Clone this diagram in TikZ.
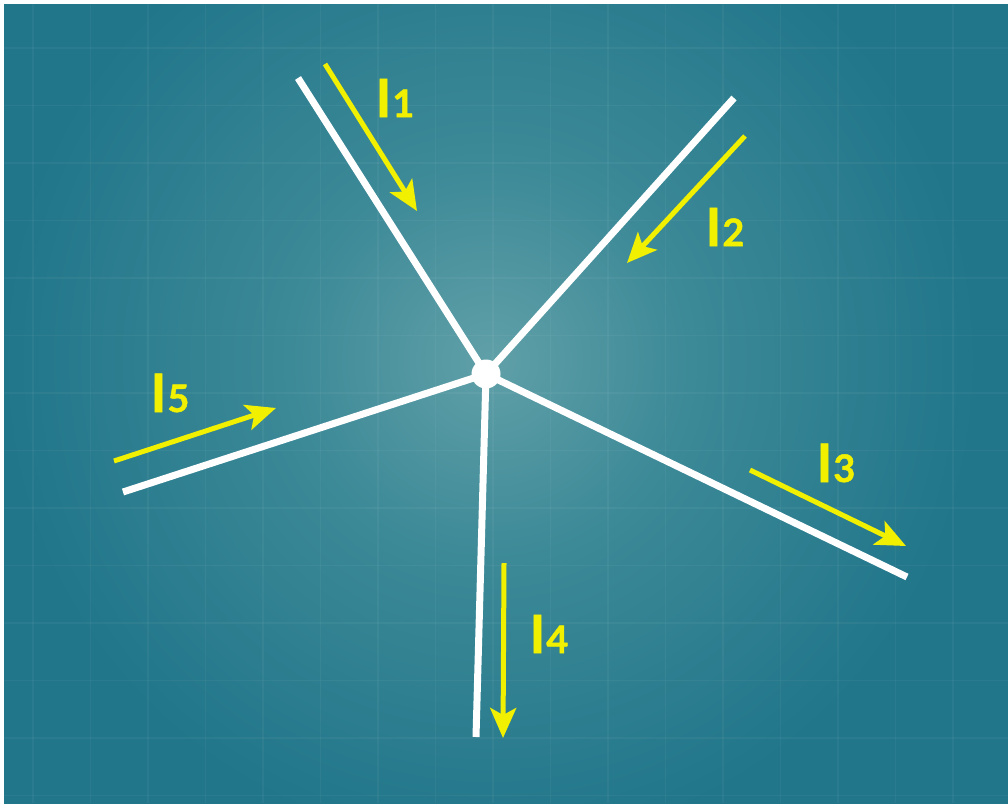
\documentclass[tikz,border=0pt]{standalone}
\usepackage{fontspec}
\newfontfamily\labfont{Lato}[BoldFeatures={FakeBold=1.2}]
\usetikzlibrary{arrows.meta}
\definecolor{bgout}{RGB}{33,118,138}
\definecolor{bgmid}{RGB}{60,137,151}
\definecolor{bgin}{RGB}{96,160,168}
\definecolor{cur}{RGB}{240,240,0}
\pgfdeclareradialshading{glow}{\pgfpoint{0bp}{0bp}}{color(0bp)=(bgin); color(7bp)=(bgmid); color(17bp)=(bgout); color(50bp)=(bgout)}
\tikzset{
  wire/.style={white, line width=7pt},
  curarrow/.style={cur, line width=5pt, -{Stealth[length=30pt,width=26pt,inset=7pt]}},
  lab/.style={text=cur, inner sep=0pt, font=\labfont\bfseries},
  gridline/.style={white, opacity=0.045, line width=1.6pt}
}
\newcommand{\curlab}[1]{\fontsize{53}{53}\selectfont I\hspace{1pt}\fontsize{38}{38}\selectfont #1}
\begin{document}
\begin{tikzpicture}[x=1pt,y=-1pt]
\useasboundingbox (0,0) rectangle (1008,803);
\fill[white] (0,0) rectangle (1008,803);
\begin{scope}
\clip (4,4) rectangle (1008,803);
\fill[bgout] (4,4) rectangle (1008,803);
\shade[shading=glow] (490,360) circle[radius=720];
\foreach \i in {0,...,17} { \draw[gridline] (33+57.5*\i,4) -- (33+57.5*\i,803); }
\foreach \j in {0,...,13} { \draw[gridline] (4,48+57.5*\j) -- (1008,48+57.5*\j); }
\end{scope}
% wires
\coordinate (w1) at (298,78);
\coordinate (w2) at (734,98);
\coordinate (w3) at (907,577);
\coordinate (w4) at (476,737);
\coordinate (w5) at (123,492);
\node[circle, fill=white, minimum size=29pt, inner sep=0pt] (c) at (486,374) {};
\draw[wire] (w1) -- (c.center);
\draw[wire] (w2) -- (c.center);
\draw[wire] (c.center) -- (w3);
\draw[wire] (c.center) -- (w4);
\draw[wire] (w5) -- (c.center);
% current arrows
\coordinate (a1s) at (325,64);  \coordinate (a1e) at (417,211);
\coordinate (a2s) at (745,136); \coordinate (a2e) at (627,263);
\coordinate (a3s) at (750,470); \coordinate (a3e) at (906,546);
\coordinate (a4s) at (504,563); \coordinate (a4e) at (503,738);
\coordinate (a5s) at (114,461); \coordinate (a5e) at (276,408);
\draw[curarrow] (a1s) -- (a1e);
\draw[curarrow] (a2s) -- (a2e);
\draw[curarrow] (a3s) -- (a3e);
\draw[curarrow] (a4s) -- (a4e);
\draw[curarrow] (a5s) -- (a5e);
% labels
\node[lab] (l1) at (395,98) {\curlab{1}};
\node[lab] (l2) at (725,227) {\curlab{2}};
\node[lab] (l3) at (836,463) {\curlab{3}};
\node[lab] (l4) at (549,634) {\curlab{4}};
\node[lab] (l5) at (170,393) {\curlab{5}};
\end{tikzpicture}
\end{document}
